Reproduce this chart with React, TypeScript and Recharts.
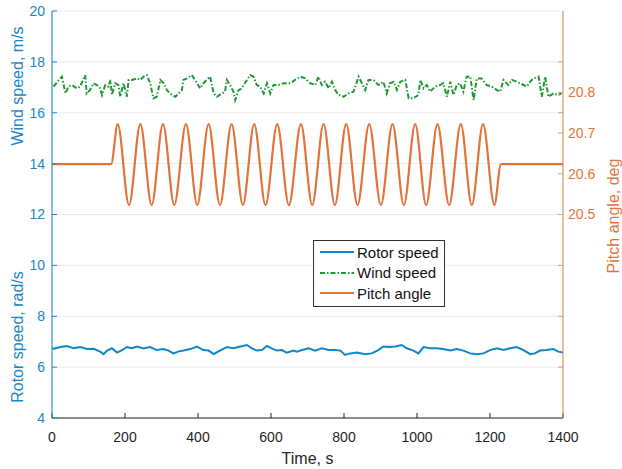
import { LineChart, Line, XAxis, YAxis, CartesianGrid } from "recharts";

// Time axis / tick values
const timeTicks = [0, 200, 400, 600, 800, 1000, 1200, 1400];
const speedTicks = [4, 6, 8, 10, 12, 14, 16, 18, 20];
const pitchTicks = [20.5, 20.6, 20.7, 20.8];
// unlabeled marks on the right axis, lined up with the left ticks
const pitchExtraTicks = [20.125, 20.25, 20.375, 20.75, 20.875];

// Wind speed, m/s
const windT = [4, 27, 37, 45, 54, 68, 77, 91, 95, 104, 114, 123, 132, 137, 146, 155, 160, 164, 173, 182, 187, 196, 205, 210, 219, 233, 242, 251, 260, 269, 278, 287, 297, 306, 315, 328, 338, 347, 356, 360, 370, 383, 392, 406, 415, 424, 433, 443, 452, 465, 474, 479, 488, 497, 502, 511, 520, 534, 543, 552, 561, 570, 580, 589, 598, 607, 621, 634, 653, 666, 680, 694, 707, 721, 730, 739, 748, 758, 767, 776, 785, 799, 812, 826, 840, 849, 858, 867, 881, 894, 908, 917, 926, 936, 945, 954, 968, 977, 990, 1004, 1009, 1018, 1027, 1036, 1050, 1063, 1072, 1082, 1091, 1100, 1109, 1118, 1127, 1136, 1146, 1155, 1164, 1177, 1191, 1205, 1219, 1228, 1237, 1250, 1260, 1273, 1292, 1301, 1310, 1319, 1333, 1342, 1351, 1360, 1374, 1387, 1396];
const windV = [17.03, 17.42, 16.76, 17.03, 17.09, 16.96, 17.03, 17.48, 16.76, 16.89, 17.16, 17.09, 16.96, 16.7, 17.09, 17.03, 17.29, 16.7, 17.16, 17.09, 16.63, 17.16, 16.63, 17.29, 17.29, 17.35, 17.29, 17.42, 17.48, 17.16, 16.57, 16.63, 17.29, 17.16, 16.89, 16.7, 16.63, 16.76, 16.89, 17.29, 17.35, 17.48, 17.29, 16.96, 17.16, 17.29, 17.42, 16.76, 16.63, 16.76, 16.83, 17.29, 17.09, 16.83, 16.5, 16.89, 16.96, 17.29, 17.48, 17.42, 17.09, 17.03, 16.76, 17.16, 16.76, 17.09, 17.09, 17.16, 17.16, 17.29, 17.42, 17.35, 17.16, 17.09, 17.42, 17.09, 17.22, 16.96, 17.22, 16.89, 16.7, 16.63, 16.76, 16.83, 17.42, 17.16, 16.89, 17.29, 17.29, 17.09, 17.22, 16.76, 17.16, 17.22, 16.89, 17.22, 17.29, 16.57, 16.57, 16.7, 17.29, 16.96, 17.09, 16.83, 17.03, 17.09, 17.16, 16.63, 17.22, 16.7, 17.09, 17.16, 16.83, 17.42, 17.42, 16.5, 17.35, 17.35, 17.09, 17.03, 16.89, 16.83, 17.29, 17.09, 17.29, 17.22, 17.09, 17.03, 17.22, 17.35, 17.42, 16.63, 17.42, 16.63, 16.76, 16.7, 16.76];

// Rotor speed, rad/s
const rotorT = [0, 4, 23, 41, 59, 78, 96, 114, 132, 141, 151, 164, 178, 192, 205, 219, 233, 251, 269, 287, 306, 319, 333, 347, 360, 379, 397, 415, 429, 443, 456, 479, 497, 516, 534, 548, 561, 575, 589, 602, 616, 630, 643, 662, 671, 685, 703, 721, 739, 758, 776, 790, 803, 817, 835, 858, 876, 894, 908, 926, 940, 958, 972, 990, 1004, 1018, 1036, 1054, 1072, 1091, 1109, 1127, 1146, 1164, 1182, 1200, 1219, 1237, 1255, 1273, 1292, 1310, 1323, 1337, 1355, 1374, 1387, 1400];
const rotorV = [6.74, 6.72, 6.79, 6.83, 6.74, 6.79, 6.71, 6.72, 6.61, 6.51, 6.65, 6.74, 6.57, 6.67, 6.79, 6.74, 6.81, 6.73, 6.79, 6.67, 6.71, 6.65, 6.54, 6.62, 6.65, 6.71, 6.81, 6.67, 6.65, 6.51, 6.62, 6.79, 6.74, 6.81, 6.87, 6.74, 6.65, 6.67, 6.83, 6.74, 6.65, 6.67, 6.57, 6.65, 6.61, 6.67, 6.74, 6.65, 6.74, 6.67, 6.67, 6.65, 6.48, 6.54, 6.57, 6.51, 6.54, 6.67, 6.81, 6.79, 6.81, 6.87, 6.74, 6.65, 6.54, 6.79, 6.74, 6.74, 6.71, 6.65, 6.71, 6.65, 6.54, 6.51, 6.54, 6.67, 6.74, 6.67, 6.74, 6.79, 6.67, 6.51, 6.54, 6.65, 6.67, 6.71, 6.61, 6.57];

// Pitch angle, deg: flat, then oscillation peaks/troughs, then flat
const pitchT = [0, 162, 180, 211, 242, 273, 304, 335, 367, 398, 429, 460, 492, 523, 554, 585, 617, 649, 682, 713, 744, 775, 806, 837, 869, 901, 933, 964, 995, 1025, 1056, 1088, 1120, 1150, 1181, 1212, 1230, 1400];
const pitchV = [20.624, 20.624, 20.722, 20.523, 20.722, 20.523, 20.722, 20.523, 20.722, 20.523, 20.722, 20.523, 20.722, 20.523, 20.722, 20.523, 20.722, 20.523, 20.722, 20.523, 20.722, 20.523, 20.722, 20.523, 20.722, 20.523, 20.722, 20.523, 20.722, 20.523, 20.722, 20.523, 20.722, 20.523, 20.722, 20.523, 20.624, 20.624];

const windData = windT.map((t, i) => ({ t, v: windV[i] }));
const rotorData = rotorT.map((t, i) => ({ t, v: rotorV[i] }));
const pitchData = pitchT.map((t, i) => ({ t, v: pitchV[i] }));
const rightTicks = [...pitchExtraTicks, ...pitchTicks].sort((a, b) => a - b);

const BLUE = "#1b86c8";
const ORANGE = "#e2733a";
const GREEN = "#1f9a35";
const DARK = "#262626";
const FONT = "'Liberation Sans', Arial, sans-serif";

const legendItems = [
  { name: "Rotor speed", color: "#0f86cc", dash: undefined as string | undefined },
  { name: "Wind speed", color: GREEN, dash: "5 2 1.5 2" },
  { name: "Pitch angle", color: ORANGE, dash: undefined },
];

function LegendBox() {
  return (
    <div style={{ position: "absolute", left: 313, top: 240, border: "1px solid #333", background: "#fff", padding: "1px 5px 2px 6px", fontFamily: FONT, fontSize: 15, color: "#111" }}>
      {legendItems.map((it) => (
        <div key={it.name} style={{ display: "flex", alignItems: "center", height: 20.5 }}>
          <svg width={34} height={6} style={{ marginRight: 3 }}>
            <line x1={0} y1={3} x2={34} y2={3} stroke={it.color} strokeWidth={2} strokeDasharray={it.dash} />
          </svg>
          <span>{it.name}</span>
        </div>
      ))}
    </div>
  );
}

// eslint-disable-next-line @typescript-eslint/no-explicit-any
const LeftTitles = (props: any) => {
  const { viewBox } = props;
  const x = viewBox.x + 17;
  return (
    <g fontFamily={FONT} fontSize={16} fill={BLUE}>
      <text x={x} y={86} textAnchor="middle" transform={`rotate(-90 ${x} 86)`} dominantBaseline="central">Wind speed, m/s</text>
      <text x={x} y={337} textAnchor="middle" transform={`rotate(-90 ${x} 337)`} dominantBaseline="central">Rotor speed, rad/s</text>
    </g>
  );
};

// eslint-disable-next-line @typescript-eslint/no-explicit-any
const RightTitle = (props: any) => {
  const { viewBox } = props;
  const x = viewBox.x + 50;
  return (
    <text x={x} y={216} textAnchor="middle" transform={`rotate(-90 ${x} 216)`} dominantBaseline="central" fontFamily={FONT} fontSize={16} fill={ORANGE}>
      Pitch angle, deg
    </text>
  );
};

export default function App() {
  return (
    <div style={{ position: "fixed", left: 0, top: 0, width: 622, height: 469, background: "#fff" }}>
      <LineChart width={622} height={469} margin={{ top: 11, right: 0, bottom: 0, left: 0 }}>
        <CartesianGrid yAxisId="speed" stroke="#ebebeb" strokeWidth={1} />
        <XAxis
          xAxisId="main"
          type="number"
          dataKey="t"
          domain={[0, 1400]}
          ticks={timeTicks}
          height={51}
          allowDataOverflow
          axisLine={{ stroke: DARK }}
          tickLine={{ stroke: DARK }}
          tickSize={-5}
          tickMargin={19}
          tick={{ fill: DARK, fontSize: 14, fontFamily: FONT }}
          label={{ value: "Time, s", position: "insideBottom", offset: 5, fill: DARK, fontSize: 16, fontFamily: FONT }}
        />
        <XAxis
          xAxisId="top"
          orientation="top"
          type="number"
          dataKey="t"
          domain={[0, 1400]}
          ticks={timeTicks}
          height={0}
          axisLine={{ stroke: DARK }}
          tickLine={{ stroke: DARK }}
          tickSize={-5}
          tickFormatter={() => ""}
        />
        <YAxis
          yAxisId="speed"
          type="number"
          domain={[4, 20]}
          ticks={speedTicks}
          width={52}
          allowDataOverflow
          axisLine={{ stroke: BLUE }}
          tickLine={{ stroke: BLUE }}
          tickSize={-5}
          tickMargin={12}
          tick={{ fill: BLUE, fontSize: 14, fontFamily: FONT }}
          label={<LeftTitles />}
        />
        <YAxis
          yAxisId="pitch"
          orientation="right"
          type="number"
          domain={[20, 21]}
          ticks={rightTicks}
          width={59}
          allowDataOverflow
          interval={0}
          axisLine={{ stroke: "#d98a4a" }}
          tickLine={{ stroke: "#b8a898" }}
          tickSize={-5}
          tickMargin={10}
          tickFormatter={(v: number) => (pitchTicks.includes(v) ? v.toFixed(1) : "")}
          tick={{ fill: ORANGE, fontSize: 14, fontFamily: FONT }}
          label={<RightTitle />}
        />
        <Line
          xAxisId="main"
          yAxisId="speed"
          data={rotorData}
          dataKey="v"
          type="linear"
          stroke="#0f86cc"
          strokeWidth={2}
          dot={false}
          isAnimationActive={false}
        />
        <Line
          xAxisId="main"
          yAxisId="speed"
          data={windData}
          dataKey="v"
          type="linear"
          stroke={GREEN}
          strokeWidth={2}
          strokeDasharray="5 2 1.5 2"
          dot={false}
          isAnimationActive={false}
        />
        <Line
          xAxisId="main"
          yAxisId="pitch"
          data={pitchData}
          dataKey="v"
          type="monotone"
          stroke={ORANGE}
          strokeWidth={2.2}
          dot={false}
          isAnimationActive={false}
        />
      </LineChart>
      <LegendBox />
    </div>
  );
}
